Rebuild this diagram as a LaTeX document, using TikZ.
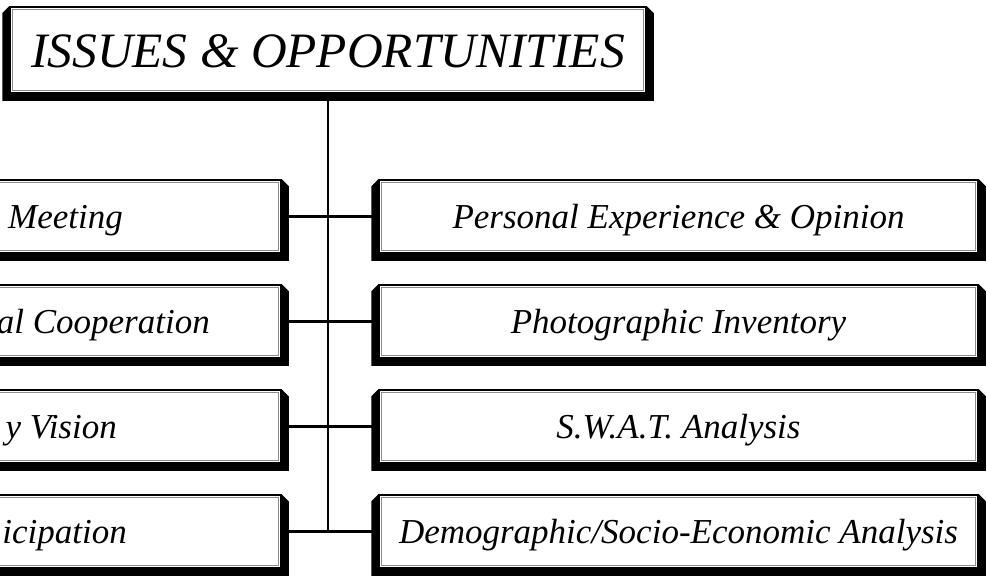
\documentclass[tikz,border=0pt]{standalone}
\usepackage{fontspec}
\setmainfont{Liberation Serif}
\begin{document}
\begin{tikzpicture}[x=1pt,y=-1pt,
  plaque/.style={rectangle, draw=black, line width=1.5pt, fill=white, inner sep=0pt},
  head/.style={font=\fontsize{49.5}{50}\selectfont\itshape, text height=34pt, text depth=0pt},
  lab/.style={font=\fontsize{35}{35}\selectfont\itshape, text height=23pt, text depth=0pt},
  sidebox/.style={plaque, minimum width=301pt, minimum height=73pt},
  mainbox/.style={plaque, lab, minimum width=599pt, minimum height=73pt},
  link/.style={line width=2.6pt}]
\useasboundingbox (0,0) rectangle (987,578);
\clip (0,0) rectangle (987,578);

% heading plaque
\node[plaque, head, minimum width=636pt, minimum height=86pt] (top) at (328,50) {ISSUES \& OPPORTUNITIES};

% left column (runs off the left edge)
\node[sidebox] (l1) at (130.5,216.5) {};
\node[sidebox] (l2) at (130.5,321.5) {};
\node[sidebox] (l3) at (130.5,426.5) {};
\node[sidebox] (l4) at (130.5,531.5) {};
\node[lab, anchor=base east, inner sep=0pt] (lt1) at (123,228) {Meeting};
\node[lab, anchor=base east, inner sep=0pt] (lt2) at (210,333) {al Cooperation};
\node[lab, anchor=base east, inner sep=0pt] (lt3) at (117,438) {y Vision};
\node[lab, anchor=base east, inner sep=0pt] (lt4) at (127,543) {icipation};

% right column
\node[mainbox] (r1) at (678.5,216.5) {Personal Experience \& Opinion};
\node[mainbox] (r2) at (678.5,321.5) {Photographic Inventory};
\node[mainbox] (r3) at (678.5,426.5) {S.W.A.T. Analysis};
\node[mainbox] (r4) at (678.5,531.5) {Demographic/Socio-Economic Analysis};

% trunk and branches
\coordinate (trunkend) at (top.south |- r4.west);
\draw[link] (top.south) -- (trunkend);
\foreach \i in {1,2,3,4}
  \draw[link] (l\i.east) -- (r\i.west);

% raised edges and inner rules of the plaques
\foreach \n in {top,l1,l2,l3,l4,r1,r2,r3,r4}{
  \fill (\n.north west) -- ([shift={(-7,7)}]\n.north west)
        -- ([shift={(-7,7)}]\n.south west) -- ([shift={(7,7)}]\n.south east)
        -- ([shift={(7,7)}]\n.north east) -- (\n.north east)
        -- (\n.south east) -- (\n.south west) -- cycle;
  \draw[black!45, line width=0.6pt] ([shift={(3,3)}]\n.north west) rectangle ([shift={(-3,-3)}]\n.south east);
}
\end{tikzpicture}
\end{document}
